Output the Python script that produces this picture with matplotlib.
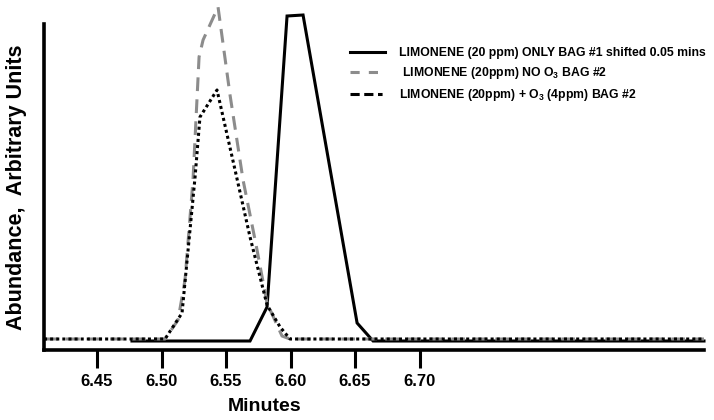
import matplotlib
matplotlib.use('Agg')
from matplotlib import pyplot as plt
from matplotlib.lines import Line2D

# retention time (minutes) and abundance (arbitrary units)
only_bag1_t = [6.4771, 6.5686, 6.5818, 6.5973, 6.6097, 6.6516, 6.6640, 6.9205]
only_bag1_y = [9, 9, 43, 334, 335, 27, 9, 9]

no_o3_t = [6.4089, 6.5027, 6.5128, 6.5182, 6.5244, 6.5291, 6.5322, 6.5438,
           6.5531, 6.5632, 6.5733, 6.5818, 6.5934, 6.5996, 6.9205]
no_o3_y = [11, 11, 30, 70, 170, 293, 310, 343, 255, 170, 105, 47, 14, 11, 11]

with_o3_t = [6.4089, 6.5027, 6.5159, 6.5260, 6.5298, 6.5430, 6.5570, 6.5686,
             6.5818, 6.5919, 6.5996, 6.9205]
with_o3_y = [11, 11, 37, 173, 233, 260, 180, 113, 45, 23, 11, 11]

labels = ['LIMONENE (20 ppm) ONLY BAG #1 shifted 0.05 mins',
          ' LIMONENE (20ppm) NO O$_3$ BAG #2',
          'LIMONENE (20ppm) + O$_3$ (4ppm) BAG #2']
xticks = [6.45, 6.50, 6.55, 6.60, 6.65, 6.70]

plt.rcParams['font.family'] = ['Liberation Sans', 'DejaVu Sans']
plt.rcParams['font.weight'] = 'bold'
plt.rcParams['mathtext.fontset'] = 'custom'
plt.rcParams['mathtext.rm'] = 'Liberation Sans:bold'
plt.rcParams['mathtext.it'] = 'Liberation Sans:bold'
plt.rcParams['mathtext.bf'] = 'Liberation Sans:bold'

W, H = 714, 420
fig = plt.figure(figsize=(W / 100, H / 100), dpi=100)
ax = fig.add_axes([44 / W, 70 / H, 660 / W, 345 / H])

ax.plot(only_bag1_t, only_bag1_y, color='black', lw=2.2, clip_on=False,
        solid_joinstyle='miter')
ax.plot(no_o3_t, no_o3_y, color='#8c8c8c', lw=2.2, linestyle=(0, (4.5, 2.7)),
        clip_on=False)
ax.plot(with_o3_t, with_o3_y, color='black', lw=2.2, linestyle=(0, (1, 1)),
        clip_on=False)

ax.set_xlim(6.4089, 6.9205)
ax.set_ylim(0, 345)
ax.spines['top'].set_visible(False)
ax.spines['right'].set_visible(False)
ax.spines['left'].set_linewidth(2.6)
ax.spines['bottom'].set_linewidth(2.6)
ax.spines['left'].set_bounds(0, 326)
ax.set_yticks([])
ax.set_xticks(xticks)
ax.set_xticklabels(['%.2f' % t for t in xticks])
ax.tick_params(axis='x', direction='out', length=13, width=2.2, pad=4,
               labelsize=12)
for lab in ax.get_xticklabels():
    lab.set_fontweight('bold')

ax.set_xlabel('Minutes', fontsize=14, fontweight='bold')
ax.xaxis.set_label_coords((265 - 44) / 660, -(398 - 350) / 345)
ax.set_ylabel('Abundance,  Arbitrary Units', fontsize=15.5, fontweight='bold')
ax.yaxis.set_label_coords(-(44 - 27) / 660, (350 - 187) / 345)

handles = [Line2D([], [], color='black', lw=2.2),
           Line2D([], [], color='#8c8c8c', lw=2.2, linestyle=(0, (3, 3))),
           Line2D([], [], color='black', lw=2.2, linestyle=(0, (3, 1.5, 3, 1.5, 1.5, 1.5)))]
leg = fig.legend(handles, labels, loc='upper left', bbox_to_anchor=(350 / W, 1 - 47 / H),
                 frameon=False, fontsize=8.8, handlelength=2.9, handletextpad=1.1,
                 labelspacing=0.5, borderpad=0, borderaxespad=0)
for t in leg.get_texts():
    t.set_fontweight('bold')

fig.savefig('out.png', dpi=100)
